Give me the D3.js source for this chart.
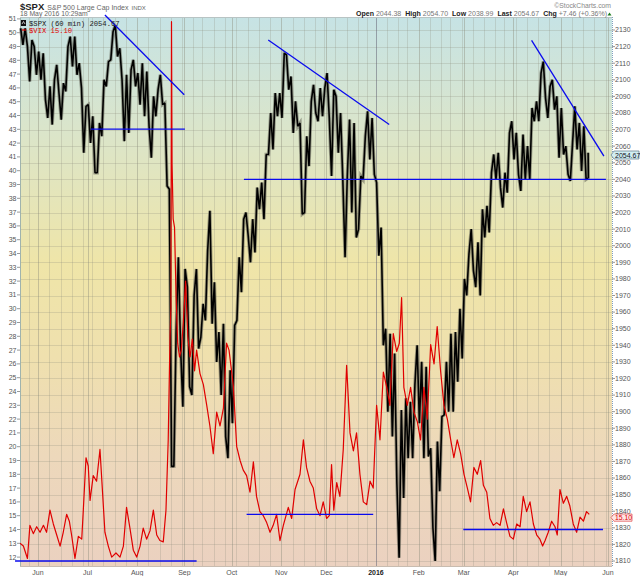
<!DOCTYPE html>
<html>
<head>
<meta charset="utf-8">
<script src="https://cdn.jsdelivr.net/npm/d3@7"></script>
<style>
  body { margin: 0; background: #fff; }
  svg { display: block; font-family: "Liberation Sans", Arial, sans-serif; }
</style>
</head>
<body>
<svg id="chart" width="640" height="576"></svg>
<script>
// S&P 500 (60 min) high / low, one pair for every two trading days from 19 May 2015
const spxHigh = [2131,2131,2124,2120,2117,2116,2096,2100,2109,2098,2120,2126,2126,2110,2084,2085,2078,2074,2100,2111,
  2129,2133,2119,2103,2106,2112,2104,2110,2105,2090,2094,2103,2086,2034,1948,1993,1986,1975,1970,1986,
  1965,1997,2021,1978,1948,1953,1925,1952,1993,2016,2020,2016,2035,2038,2055,2080,2092,2092,2116,2115,
  2102,2087,2074,2066,2087,2097,2095,2095,2104,2094,2090,2080,2042,2076,2074,2042,2066,2081,2077,2038,
  2011,1950,1947,1935,1901,1908,1906,1916,1940,1930,1927,1878,1882,1897,1930,1947,1948,1962,1980,1995,
  2010,2002,2022,2024,2044,2055,2056,2044,2068,2075,2068,2067,2060,2083,2087,2104,2111,2096,2100,2090,
  2083,2060,2062,2084,2074,2072,2056];
const spxLow = [2121,2120,2099,2103,2100,2088,2077,2073,2092,2076,2093,2108,2103,2095,2056,2062,2044,2044,2066,2096,
  2112,2114,2100,2063,2068,2096,2085,2078,2072,2053,2078,2085,2036,1867,1867,1938,1903,1915,1910,1938,
  1945,1955,1953,1930,1910,1885,1872,1893,1955,1972,2006,1990,1996,2022,2016,2055,2058,2078,2077,2094,
  2068,2072,2019,2020,2048,2080,2075,2078,2077,2042,2056,2040,1993,2020,2005,2010,2040,2052,2043,1994,
  1940,1900,1885,1857,1812,1848,1872,1872,1893,1872,1873,1830,1810,1852,1898,1900,1900,1918,1932,1970,
  1985,1975,1970,2005,2008,2040,2035,2023,2032,2052,2043,2033,2040,2040,2075,2075,2089,2077,2082,2053,
  2055,2043,2039,2058,2045,2040,2041];
const SPX_STEP = 2;

// VIX readings: trading-day position and value
const vixDays = [0,1.5,3.3,4.4,5.9,7.4,8.9,10.4,11.8,13.3,14.8,16.3,17.8,19.2,20.7,21.9,22.9,24.4,25.9,27.4,
  28.1,29.3,30.3,31.1,32.5,34.0,35.5,36.2,37.7,39.2,40.7,42.6,44.4,45.9,47.3,48.8,50.3,51.8,53.3,54.7,
  56.2,57.7,59.2,60.7,62.1,63.6,64.8,65.8,66.6,67.0,67.25,67.5,68.0,68.6,69.3,70.0,70.8,71.6,72.5,73.5,
  74.5,75.5,76.5,77.5,78.4,79.9,81.4,82.9,84.3,85.8,87.3,88.8,90.3,91.7,92.8,94.7,96.2,97.7,99.1,100.6,
  102.1,103.6,105.0,106.5,108.0,109.5,111.0,112.4,113.9,115.4,116.9,119.1,120.6,122.1,124.3,125.8,127.2,128.7,130.2,131.7,
  133.2,134.6,136.1,137.3,138.3,139.3,140.6,142.0,143.5,145.0,146.5,148.0,149.4,150.9,152.4,153.9,155.4,156.8,158.3,159.8,
  161.3,162.8,164.2,165.7,167.2,168.4,169.4,170.4,171.9,173.4,174.9,176.4,177.8,179.3,180.8,182.3,183.8,185.2,186.7,188.2,
  189.7,191.2,192.6,194.1,195.6,197.1,198.6,200.0,201.5,203.0,204.5,205.7,207.2,208.6,210.1,211.6,213.1,214.6,216.0,217.5,
  219.0,220.5,222.0,223.4,224.9,226.4,227.9,229.4,230.8,232.0,233.1,234.5,236.0,237.5,238.5,239.7,241.2,242.7,244.1,245.6,
  247.1,248.6,250.1,251.5,252.7];
const vixValues = [13.0,12.8,11.9,14.3,13.7,14.2,13.8,14.3,13.8,15.4,14.4,13.6,12.8,13.8,15.1,14.6,13.6,11.9,13.5,13.3,
  15.4,19.2,18.6,16.1,17.9,17.5,19.8,17.9,13.8,12.8,12.0,12.3,12.0,12.8,15.6,14.1,12.5,12.0,12.8,14.1,
  13.3,13.9,15.4,13.6,13.2,13.1,15.4,20.5,28.0,30.0,50.8,40.5,36.5,35.9,30.8,27.5,26.5,27.0,29.0,32.0,
  28.0,26.5,27.8,25.5,27.0,25.3,24.5,23.0,21.5,19.5,22.5,21.5,22.8,27.5,27.0,24.4,20.0,19.0,18.3,17.9,
  16.7,18.9,16.4,15.3,15.0,14.5,13.8,14.3,15.1,13.2,14.3,15.6,14.8,16.9,18.0,20.5,18.5,17.5,17.0,15.5,
  15.0,16.0,14.8,15.0,18.7,15.4,17.4,16.4,19.8,25.9,21.0,19.7,21.0,18.0,16.0,15.8,17.5,17.0,23.0,20.5,
  25.4,24.3,23.0,28.2,26.9,27.5,30.8,24.3,23.0,24.3,22.5,21.8,20.5,24.3,22.0,27.4,26.0,28.7,25.5,23.0,
  22.0,20.5,19.2,20.5,19.5,18.0,17.0,16.0,18.5,18.0,19.0,17.2,16.7,14.8,14.3,14.5,14.3,15.5,14.5,13.5,
  13.3,14.4,14.2,16.4,15.3,16.0,14.4,13.6,13.3,12.8,13.2,13.8,14.6,14.2,13.6,16.9,15.9,16.4,15.7,14.4,
  13.8,14.9,14.6,15.3,15.1];

// hand-drawn trend lines, [trading day, value]
const spxTrendLines = [
  [[37.7, 2139], [72.9, 2091]],
  [[31.4, 2070.3], [73.2, 2070.3]],
  [[-2.2, 1810], [78.4, 1810]],
  [[110.2, 2124], [163.9, 2073]],
  [[99.4, 2040], [260.1, 2040]],
  [[227.1, 2123.7], [259.2, 2054]]
];
const vixLevelLines = [
  [[100.6, 15.1], [156.8, 15.1]],
  [[196.8, 14.0], [258.8, 14.0]]
];

const leftTicks = d3.range(12, 52);
const rightTicks = d3.range(1810, 2131, 10);
const lastSpx = "2054.67";
const lastVix = "15.10";
const HOLIDAYS = ["2015-05-25", "2015-07-03", "2015-09-07", "2015-11-26", "2015-12-25",
  "2016-01-01", "2016-01-18", "2016-02-15", "2016-03-25", "2016-05-30"];

// trading calendar, used for the time axis
const fmtKey = d3.timeFormat("%Y-%m-%d");
const tradingDays = [];
for (let d = new Date(2015, 4, 19); d <= new Date(2016, 5, 3); d.setDate(d.getDate() + 1)) {
  const wd = d.getDay();
  if (wd === 0 || wd === 6 || HOLIDAYS.includes(fmtKey(d))) continue;
  tradingDays.push(new Date(d));
}
const monthStarts = [], weekStarts = [];
tradingDays.forEach((d, i) => {
  if (i === 0) return;
  const p = tradingDays[i - 1];
  if (d.getMonth() !== p.getMonth()) monthStarts.push(i);
  else if (+d3.timeMonday.floor(d) !== +d3.timeMonday.floor(p)) weekStarts.push(i);
});

const plot = { left: 20, right: 612, top: 17, bottom: 566 };
const svg = d3.select("#chart");

const x = d3.scaleLinear().domain([0, 262.8]).range([plot.left, plot.right]);
const spxY = d3.scaleLinear().domain([1810, 2130]).range([561, 30]);
const vixY = d3.scaleLinear().domain([12, 50]).range([557.1, 32.7]);

// background gradient
const grad = svg.append("defs").append("linearGradient")
  .attr("id", "bg").attr("x1", 0).attr("y1", 0).attr("x2", 0).attr("y2", 1);
[[0, "#c6e3e5"], [0.2, "#dae5cb"], [0.45, "#efe5a8"], [0.62, "#efe0ae"], [0.8, "#edd8bb"], [1, "#ebd1c0"]]
  .forEach(([o, c]) => grad.append("stop").attr("offset", o).attr("stop-color", c));

svg.append("rect")
  .attr("x", plot.left).attr("y", plot.top)
  .attr("width", plot.right - plot.left).attr("height", plot.bottom - plot.top)
  .attr("fill", "url(#bg)");

// grid
const grid = svg.append("g");
grid.selectAll(".hg").data(rightTicks).join("line")
  .attr("x1", plot.left).attr("x2", plot.right)
  .attr("y1", d => Math.round(spxY(d)) + 0.5).attr("y2", d => Math.round(spxY(d)) + 0.5)
  .attr("stroke", "#8a8a7a").attr("stroke-opacity", 0.25);
grid.selectAll(".wg").data(weekStarts).join("line")
  .attr("x1", d => Math.round(x(d)) + 0.5).attr("x2", d => Math.round(x(d)) + 0.5)
  .attr("y1", plot.top).attr("y2", plot.bottom)
  .attr("stroke", "#8a8a7a").attr("stroke-opacity", 0.25);
grid.selectAll(".mg").data(monthStarts).join("line")
  .attr("x1", d => Math.round(x(d)) + 0.5).attr("x2", d => Math.round(x(d)) + 0.5)
  .attr("y1", plot.top).attr("y2", plot.bottom)
  .attr("stroke", d => tradingDays[d].getMonth() === 0 ? "#667" : "#8a8a7a")
  .attr("stroke-opacity", d => tradingDays[d].getMonth() === 0 ? 0.55 : 0.42);

// plot frame
svg.append("line").attr("x1", plot.left + 0.5).attr("x2", plot.left + 0.5)
  .attr("y1", plot.top).attr("y2", plot.bottom).attr("stroke", "#9fb3ad");
svg.append("line").attr("x1", plot.right + 0.5).attr("x2", plot.right + 0.5)
  .attr("y1", plot.top).attr("y2", plot.bottom)
  .attr("stroke", "#7f9fc0").attr("stroke-dasharray", "1,1");
svg.append("line").attr("x1", plot.left).attr("x2", plot.right)
  .attr("y1", plot.top + 0.5).attr("y2", plot.top + 0.5).attr("stroke", "#b8c4c4");
svg.append("line").attr("x1", plot.left).attr("x2", plot.right)
  .attr("y1", plot.bottom + 0.5).attr("y2", plot.bottom + 0.5).attr("stroke", "#c8bcb0");

// SPX price trace: each two-day slot visits its low and high, in the order of the move
const mid = i => (spxHigh[i] + spxLow[i]) / 2;
const spxPath = [];
spxHigh.forEach((h, i) => {
  const lo = spxLow[i];
  const rising = i < spxHigh.length - 1 ? mid(i + 1) >= mid(i) : true;
  const d0 = i * SPX_STEP + 0.3, d1 = Math.min(i * SPX_STEP + 1.3, 252.2);
  if (rising) spxPath.push([d0, lo], [d1, h]);
  else spxPath.push([d0, h], [d1, lo]);
});
const spxLine = d3.line().x(d => x(d[0])).y(d => spxY(d[1]));
svg.append("path").datum(spxPath).attr("d", spxLine)
  .attr("fill", "none").attr("stroke", "#5e5e52").attr("stroke-opacity", 0.55).attr("stroke-width", 3.4);
svg.append("path").datum(spxPath).attr("d", spxLine)
  .attr("fill", "none").attr("stroke", "#000").attr("stroke-width", 1.6).attr("stroke-linejoin", "bevel");

// VIX line
svg.append("path")
  .datum(vixDays.map((d, i) => [d, vixValues[i]]))
  .attr("d", d3.line().x(d => x(d[0])).y(d => vixY(d[1])))
  .attr("fill", "none").attr("stroke", "#e00000").attr("stroke-width", 1.2)
  .attr("stroke-linejoin", "round");

// trend lines
svg.append("g").selectAll("line").data(spxTrendLines).join("line")
  .attr("x1", d => x(d[0][0])).attr("y1", d => spxY(d[0][1]))
  .attr("x2", d => x(d[1][0])).attr("y2", d => spxY(d[1][1]))
  .attr("stroke", "#0a0aee").attr("stroke-width", 1.3);
svg.append("g").selectAll("line").data(vixLevelLines).join("line")
  .attr("x1", d => x(d[0][0])).attr("y1", d => vixY(d[0][1]))
  .attr("x2", d => x(d[1][0])).attr("y2", d => vixY(d[1][1]))
  .attr("stroke", "#0a0aee").attr("stroke-width", 1.3);

// left axis (VIX)
const la = svg.append("g").attr("font-size", 7).attr("fill", "#555");
leftTicks.forEach(t => {
  la.append("line").attr("x1", 17).attr("x2", plot.left).attr("y1", vixY(t)).attr("y2", vixY(t))
    .attr("stroke", "#999");
  la.append("text").attr("x", 16.5).attr("y", vixY(t) + 2.5).attr("text-anchor", "end").text(t);
});

// right axis (SPX)
const ra = svg.append("g").attr("font-size", 7).attr("fill", "#555");
rightTicks.forEach(t => {
  ra.append("line").attr("x1", plot.right).attr("x2", plot.right + 3).attr("y1", spxY(t)).attr("y2", spxY(t))
    .attr("stroke", "#999");
  ra.append("text").attr("x", plot.right + 3).attr("y", spxY(t) + 2.4).text(t);
});

// time axis labels
const fmtMonth = d3.timeFormat("%b");
svg.append("g").selectAll("text").data(monthStarts.filter(i => x(i) < plot.right + 2)).join("text")
  .attr("x", d => x(d)).attr("y", 574.5)
  .attr("text-anchor", "middle").attr("font-size", 7)
  .attr("font-weight", d => tradingDays[d].getMonth() === 0 ? "bold" : "normal")
  .attr("fill", d => tradingDays[d].getMonth() === 0 ? "#222" : "#555")
  .text(d => tradingDays[d].getMonth() === 0 ? d3.timeFormat("%Y")(tradingDays[d]) : fmtMonth(tradingDays[d]));

// last-value boxes
const spxBoxY = spxY(+lastSpx);
svg.append("path")
  .attr("d", `M${plot.right - 1},${spxBoxY} L${plot.right + 2},${spxBoxY - 4} H639 V${spxBoxY + 4} H${plot.right + 2} Z`)
  .attr("fill", "#d2eef2").attr("stroke", "#5b7788").attr("stroke-width", 0.7);
svg.append("text").attr("x", plot.right + 3).attr("y", spxBoxY + 2.6)
  .attr("font-size", 7).attr("fill", "#112").text(lastSpx);
const vixBoxY = vixY(+lastVix) + 3.3;
svg.append("path")
  .attr("d", `M${plot.right - 1},${vixBoxY} L${plot.right + 2},${vixBoxY - 3.6} H632 V${vixBoxY + 3.6} H${plot.right + 2} Z`)
  .attr("fill", "#fde6e6").attr("stroke", "#e04848").attr("stroke-width", 0.7);
svg.append("text").attr("x", plot.right + 3).attr("y", vixBoxY + 2.5)
  .attr("font-size", 6.8).attr("fill", "#d00").text(lastVix);

// legend
svg.append("rect").attr("x", 21).attr("y", 20).attr("width", 5).attr("height", 6).attr("fill", "#111");
svg.append("path").attr("d", "M22,24 L23.5,21.5 L25,24").attr("stroke", "#fff").attr("stroke-width", 0.7).attr("fill", "none");
svg.append("text").attr("x", 29).attr("y", 26).attr("font-family", "Liberation Mono, monospace")
  .attr("font-size", 7.2).attr("fill", "#222").text(`$SPX (60 min) ${lastSpx}`);
svg.append("line").attr("x1", 22).attr("x2", 26).attr("y1", 30).attr("y2", 30).attr("stroke", "#e00000").attr("stroke-width", 1.2);
svg.append("text").attr("x", 29).attr("y", 32.5).attr("font-family", "Liberation Mono, monospace")
  .attr("font-size", 7.2).attr("fill", "#e00000").text(`$VIX ${lastVix}`);

// header
const title = svg.append("text").attr("x", 20).attr("y", 9.5);
title.append("tspan").attr("font-size", 9.5).attr("font-weight", "bold").attr("fill", "#222").text("$SPX");
title.append("tspan").attr("dx", 3).attr("font-size", 7).attr("fill", "#666").text("S&P 500 Large Cap Index");
title.append("tspan").attr("dx", 3).attr("font-size", 6).attr("fill", "#666").text("INDX");
svg.append("text").attr("x", 20).attr("y", 16).attr("font-size", 6.8).attr("fill", "#666").text("18 May 2016 10:29am");

svg.append("text").attr("x", 611).attr("y", 8).attr("text-anchor", "end")
  .attr("font-size", 6.8).attr("fill", "#888").text("©StockCharts.com");

const quote = [["Open", "2044.38"], ["High", "2054.70"], ["Low", "2038.99"], ["Last", "2054.67"], ["Chg", "+7.46 (+0.36%)"]];
const qt = svg.append("text").attr("x", 607).attr("y", 16).attr("text-anchor", "end").attr("font-size", 7);
quote.forEach(([k, v], i) => {
  qt.append("tspan").attr("dx", i ? 4 : 0).attr("font-weight", "bold").attr("fill", "#222").text(k);
  qt.append("tspan").attr("dx", 2).attr("fill", "#777").text(v);
});
svg.append("path").attr("d", "M607.5,15.5 L609.5,12.5 L611.5,15.5 Z").attr("fill", "#1a7a1a");
</script>
</body>
</html>
